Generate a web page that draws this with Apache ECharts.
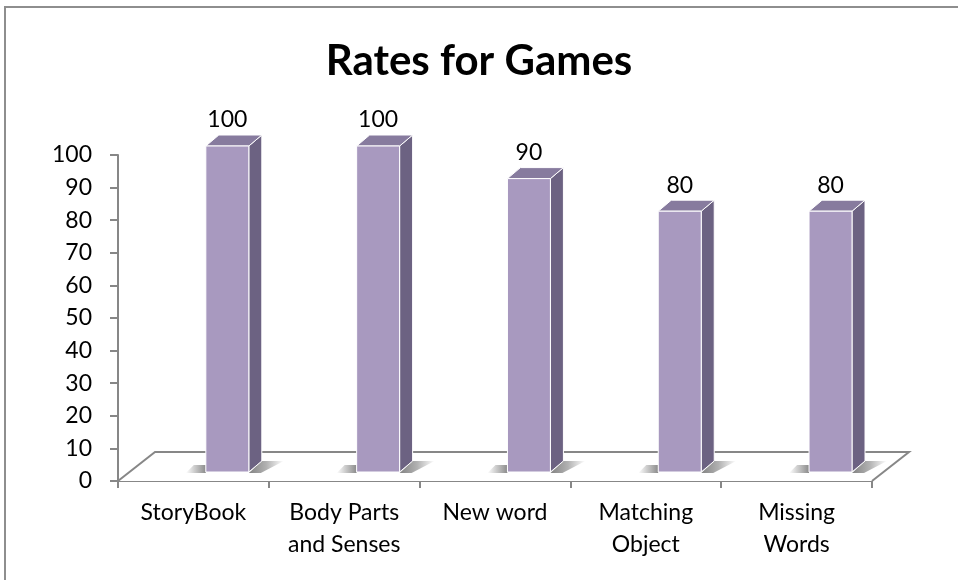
<!DOCTYPE html>
<html>
<head>
<meta charset="utf-8">
<script src="https://cdn.jsdelivr.net/npm/echarts@6/dist/echarts.min.js"></script>
<style>html,body{margin:0;padding:0;background:#fff}#c{width:958px;height:580px}</style>
</head>
<body>
<div id="c"></div>
<script>
const titleText = 'Rates for Games';
const categories = ['StoryBook', 'Body Parts\nand Senses', 'New word', 'Matching\nObject', 'Missing\nWords'];
const values = [100, 100, 90, 80, 80];
const yMin = 0, yMax = 100, yInterval = 10;

const FONT = 'Lato';
const AXIS_COLOR = '#878787';
const FRONT = '#a899bf';
const SIDE = '#6c6282';
const TOP = '#877b9e';

const chart = echarts.init(document.getElementById('c'), null, {renderer: 'canvas'});

function renderFloor(params, api) {
  const band = api.size([1, 0])[0];
  const first = api.coord([0, 0]);
  const last = api.coord([categories.length - 1, 0]);
  const left = first[0] - band / 2, right = last[0] + band / 2, y0 = first[1];
  const ddx = 37, ddy = -29;
  return {
    type: 'group',
    children: [
      {type: 'polygon', shape: {points: [[left, y0], [left + ddx, y0 + ddy], [right + ddx, y0 + ddy], [right, y0]]},
       style: {fill: '#ffffff'}},
      {type: 'polyline', shape: {points: [[left, y0], [left + ddx, y0 + ddy], [right + ddx, y0 + ddy], [right, y0]]},
       style: {stroke: AXIS_COLOR, lineWidth: 2, fill: null}}
    ]
  };
}

function renderBar(params, api) {
  const i = api.value(0), v = api.value(1);
  const base = api.coord([i, 0]);
  const top = api.coord([i, v]);
  const band = api.size([1, 0])[0];
  const cx = base[0] + band * 0.225;
  const w = band * 0.285;
  const lift = 9;
  const x0 = cx - w / 2, x1 = cx + w / 2;
  const yb = base[1] - lift, yt = top[1] - lift;
  const dx = 13, dy = -11;
  return {
    type: 'group',
    children: [
      {type: 'polygon', shape: {points: [[x0 - 20, yb + 1], [x0, yb + 1], [x0, yb - 7], [x0 - 12, yb - 7]]},
       style: {fill: new echarts.graphic.LinearGradient(0, 0, 1, 0, [
         {offset: 0, color: 'rgba(100,100,100,0)'},
         {offset: 1, color: 'rgba(100,100,100,0.75)'}])}},
      {type: 'polygon', shape: {points: [[x1, yb + 1], [x1 + dx, yb + dy], [x1 + dx + 22, yb + dy], [x1 + 12, yb + 1]]},
       style: {fill: new echarts.graphic.LinearGradient(0, 0, 1, 0, [
         {offset: 0, color: 'rgba(100,100,100,0.8)'},
         {offset: 0.5, color: 'rgba(100,100,100,0.5)'},
         {offset: 1, color: 'rgba(100,100,100,0)'}])}},
      {type: 'polygon', shape: {points: [[x1, yt], [x1 + dx, yt + dy], [x1 + dx, yb + dy], [x1, yb]]},
       style: {fill: SIDE, stroke: '#ffffff', lineWidth: 1}},
      {type: 'polygon', shape: {points: [[x0, yt], [x0 + dx, yt + dy], [x1 + dx, yt + dy], [x1, yt]]},
       style: {fill: TOP, stroke: '#ffffff', lineWidth: 1}},
      {type: 'rect', shape: {x: x0, y: yt, width: w, height: yb - yt},
       style: {fill: FRONT, stroke: '#ffffff', lineWidth: 1}},
      {type: 'text', x: cx, y: yt - 26,
       style: {text: String(v), fill: '#000', font: '23px ' + FONT, align: 'center', verticalAlign: 'middle'}}
    ]
  };
}

chart.setOption({
  animation: false,
  backgroundColor: '#ffffff',
  title: {
    text: titleText, left: 'center', top: 35,
    textStyle: {fontFamily: FONT, fontSize: 42, fontWeight: 'bold', color: '#000'}
  },
  graphic: [{
    type: 'rect', shape: {x: 5, y: 7, width: 1200, height: 1200},
    style: {fill: null, stroke: '#8e8e8e', lineWidth: 2}, z: 100, silent: true
  }],
  grid: {left: 118, right: 86, top: 155, bottom: 99, containLabel: false},
  xAxis: {
    type: 'category', data: categories, boundaryGap: true,
    axisLine: {lineStyle: {color: AXIS_COLOR, width: 2}},
    axisTick: {show: true, alignWithLabel: false, length: 7, lineStyle: {color: AXIS_COLOR, width: 2}},
    axisLabel: {interval: 0, margin: 16, color: '#000', fontFamily: FONT, fontSize: 23, lineHeight: 32, align: 'center'},
    splitLine: {show: false}
  },
  yAxis: {
    type: 'value', min: yMin, max: yMax, interval: yInterval,
    axisLine: {show: true, lineStyle: {color: AXIS_COLOR, width: 2}},
    axisTick: {show: true, length: 8, lineStyle: {color: AXIS_COLOR, width: 2}},
    axisLabel: {margin: 26, color: '#000', fontFamily: FONT, fontSize: 23},
    splitLine: {show: false}
  },
  series: [
    {type: 'custom', name: 'floor', renderItem: renderFloor, data: [[0, 0]], z: 1, silent: true, clip: false},
    {type: 'custom', name: 'Rates', renderItem: renderBar, clip: false, z: 3,
     data: values.map((v, i) => [i, v])}
  ]
});
</script>
</body>
</html>
